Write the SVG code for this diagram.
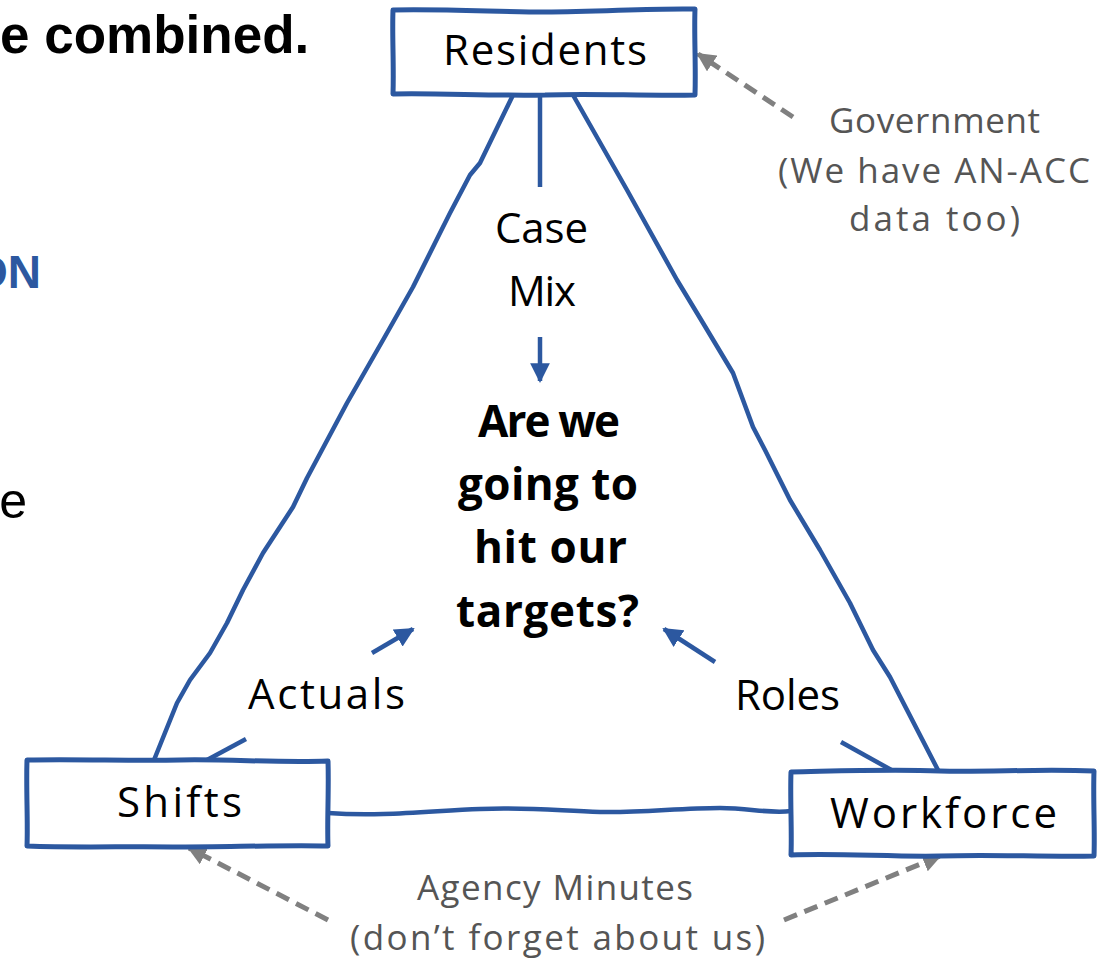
<svg xmlns="http://www.w3.org/2000/svg" width="1097" height="965" viewBox="0 0 1097 965">
<style>
.box{fill:#fff;stroke:#2c58a0;stroke-width:5;stroke-linejoin:round;stroke-linecap:round}
.ln{fill:none;stroke:#2c58a0;stroke-width:4.5;stroke-linejoin:round;stroke-linecap:butt}
.dash{fill:none;stroke:#808080;stroke-width:5;stroke-dasharray:14 8}
.lbl{font-family:"Open Sans","Noto Sans",sans-serif;font-size:42px;fill:#000;text-anchor:middle}
.q{font-family:"Open Sans","Noto Sans",sans-serif;font-size:44px;font-weight:bold;fill:#000;text-anchor:middle}
.note{font-family:"Open Sans","Noto Sans",sans-serif;font-size:35px;fill:#555;text-anchor:middle}
.slide{font-family:"Liberation Sans",Arial,sans-serif}
</style>
<defs>
<marker id="ab" viewBox="0 0 10 10" refX="9" refY="5" markerWidth="4.4" markerHeight="4.4" orient="auto" markerUnits="strokeWidth">
<path d="M0,0 L10,5 L0,10 z" fill="#2c58a0"/>
</marker>
<marker id="ag" viewBox="0 0 10 10" refX="9" refY="5" markerWidth="3.8" markerHeight="3.8" orient="auto" markerUnits="strokeWidth">
<path d="M0,0 L10,5 L0,10 z" fill="#808080"/>
</marker>
</defs>

<g id="slide-text">
<text class="slide" x="0" y="53" font-size="53" font-weight="bold" fill="#000">e combined.</text>
<text class="slide" x="41" y="288" font-size="46" font-weight="bold" fill="#2c58a0" text-anchor="end">ON</text>
<text class="slide" x="27" y="518" font-size="50" fill="#000" text-anchor="end">e</text>
</g>

<g id="connectors">
<polyline class="ln" points="513,95 480,163 470,175 450,213 413,287 383,340 347,403 307,478 293,507 263,553 243,590 227,623 210,653 190,680 177,703 154,760"/>
<polyline class="ln" points="573,95 627,190 677,280 703,323 733,373 753,427 765,450 790,500 820,550 850,603 873,650 890,677 939,772"/>
<path class="ln" d="M328,813 C380,817 430,811 480,809 C530,807 560,811 600,812 C640,813 680,808 720,808 C750,808 770,814 791,811"/>
<line class="ln" x1="540" y1="95" x2="540" y2="187"/>
<line class="ln" x1="540" y1="337" x2="540" y2="381" marker-end="url(#ab)"/>
<line class="ln" x1="207" y1="760" x2="246" y2="739"/>
<line class="ln" x1="372" y1="653" x2="413" y2="629" marker-end="url(#ab)"/>
<line class="ln" x1="895" y1="772" x2="841" y2="742"/>
<line class="ln" x1="715" y1="662" x2="664" y2="629" marker-end="url(#ab)"/>
<line class="dash" x1="793" y1="117" x2="698" y2="54" marker-end="url(#ag)"/>
<line class="dash" x1="328" y1="920" x2="189" y2="848" marker-end="url(#ag)"/>
<line class="dash" x1="784" y1="920" x2="940" y2="856" marker-end="url(#ag)"/>
</g>

<g id="residents">
<path class="box" d="M393,10 C450,9 500,12 545,12 C600,12 650,8 695,9 C694,35 696,65 695,95 C640,96 590,93 545,95 C490,96 440,93 393,94 C394,65 392,35 393,10 Z"/>
<text class="lbl" x="545" y="65" textLength="204" lengthAdjust="spacing">Residents</text>
</g>

<g id="shifts">
<path class="box" d="M27,760 C80,759 130,761 180,760 C230,759 280,763 328,761 C329,790 327,820 328,846 C280,845 230,847 180,847 C130,846 80,848 27,846 C28,820 26,790 27,760 Z"/>
<text class="lbl" x="179.5" y="817" textLength="125" lengthAdjust="spacing">Shifts</text>
</g>

<g id="workforce">
<path class="box" d="M791,772 C840,771 890,769 940,771 C990,772 1040,769 1094,771 C1093,800 1095,830 1094,856 C1040,857 990,854 940,856 C890,857 840,853 791,855 C792,830 790,800 791,772 Z"/>
<text class="lbl" x="943.5" y="828" textLength="227" lengthAdjust="spacing">Workforce</text>
</g>

<g id="question">
<text class="q" x="549" y="437" textLength="142" lengthAdjust="spacing">Are we</text>
<text class="q" x="548" y="500" textLength="180" lengthAdjust="spacing">going to</text>
<text class="q" x="550.5" y="563" textLength="153" lengthAdjust="spacing">hit our</text>
<text class="q" x="547.5" y="627" textLength="183" lengthAdjust="spacing">targets?</text>
</g>

<g id="labels">
<text class="lbl" x="541.5" y="243" textLength="93" lengthAdjust="spacing">Case</text>
<text class="lbl" x="542" y="306" textLength="68" lengthAdjust="spacing">Mix</text>
<text class="lbl" x="326.5" y="709" textLength="157" lengthAdjust="spacing">Actuals</text>
<text class="lbl" x="787.5" y="710" textLength="105" lengthAdjust="spacing">Roles</text>
</g>

<g id="government">
<text class="note" x="934.5" y="133" textLength="211" lengthAdjust="spacing">Government</text>
<text class="note" x="934" y="183" textLength="312" lengthAdjust="spacing">(We have AN-ACC</text>
<text class="note" x="934.5" y="231" textLength="171" lengthAdjust="spacing">data too)</text>
</g>

<g id="agency">
<text class="note" x="555" y="900" textLength="276" lengthAdjust="spacing">Agency Minutes</text>
<text class="note" x="557.5" y="950" textLength="415" lengthAdjust="spacing">(don’t forget about us)</text>
</g>
</svg>
